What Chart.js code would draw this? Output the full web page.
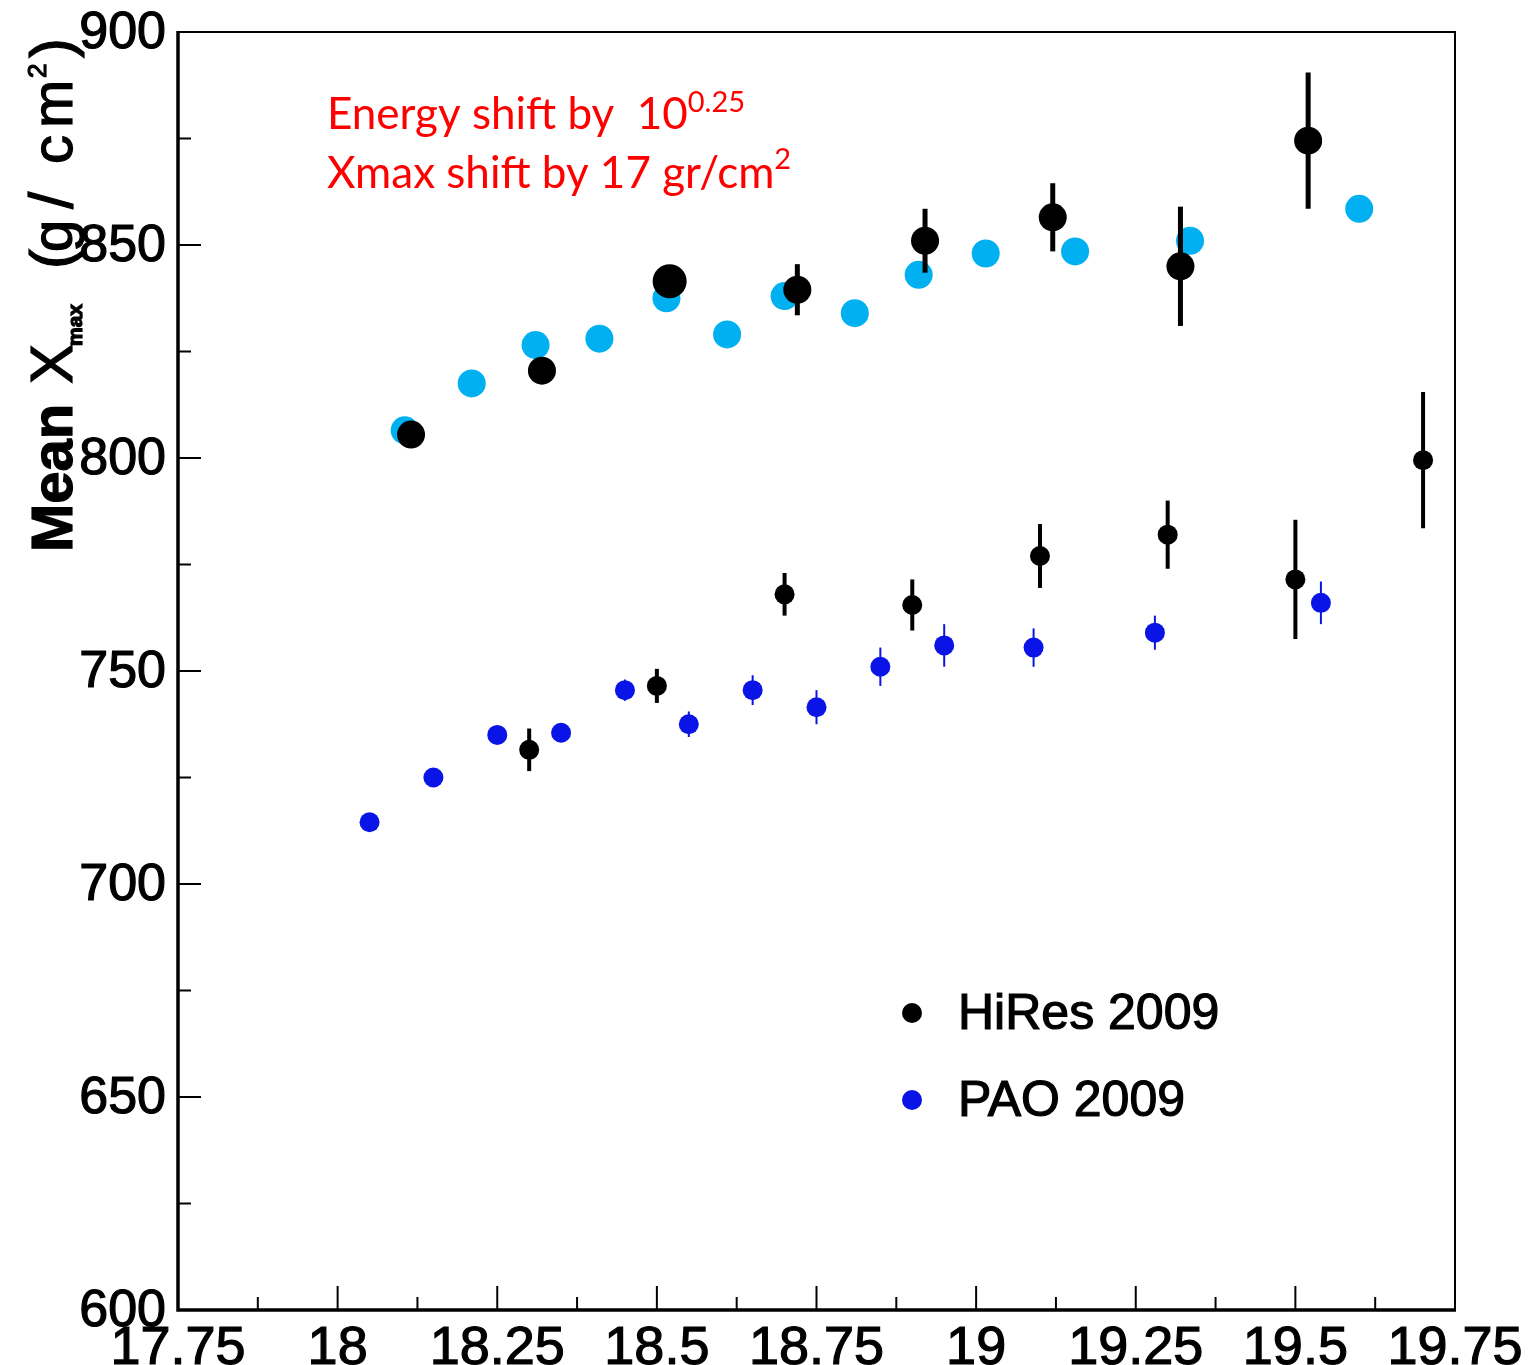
<!DOCTYPE html>
<html>
<head>
<meta charset="utf-8">
<script src="https://cdn.jsdelivr.net/npm/chart.js@4"></script>
<style>
  body { margin: 0; background: #fff; }
  #box { width: 1532px; height: 1365px; position: relative; }
</style>
</head>
<body>
<div id="box"><canvas id="grafica"></canvas></div>
<script>
// ejes
const xTicks = [17.75, 18, 18.25, 18.5, 18.75, 19, 19.25, 19.5, 19.75];
const xTickLabels = ['17.75', '18', '18.25', '18.5', '18.75', '19', '19.25', '19.5', '19.75'];
const yTicks = [600, 650, 700, 750, 800, 850, 900];

// HiRes 2009
const hiresX = [18.30, 18.50, 18.70, 18.90, 19.10, 19.30, 19.50, 19.70];
const hiresY = [731.5, 746.5, 768, 765.5, 777, 782, 771.5, 799.5];
const hiresErr = [5, 4, 5, 6, 7.5, 8, 14, 16];

// PAO 2009
const paoX = [18.05, 18.15, 18.25, 18.35, 18.45, 18.55, 18.65, 18.75, 18.85, 18.95, 19.09, 19.28, 19.54];
const paoY = [714.5, 725, 735, 735.5, 745.5, 737.5, 745.5, 741.5, 751, 756, 755.5, 759, 766];
const paoErr = [2, 2, 2, 2, 2.5, 3, 3.5, 4, 4.5, 5, 4.5, 4, 5];

// HiRes desplazado
const hiresShiftX = [18.115, 18.32, 18.52, 18.72, 18.92, 19.12, 19.32, 19.52];
const hiresShiftY = [805.5, 820.5, 841.5, 839.5, 851, 856.5, 845, 874.5];
const hiresShiftErr = [2, 2, 3, 6, 7.5, 8, 14, 16];

// PAO desplazado
const paoShiftX = [18.105, 18.21, 18.31, 18.41, 18.515, 18.61, 18.70, 18.81, 18.91, 19.015, 19.155, 19.335, 19.60];
const paoShiftY = [806.5, 817.5, 826.5, 828, 837.5, 829, 838, 834, 843, 848, 848.5, 851, 858.5];

function puntos(xs, ys) {
    return xs.map((x, i) => ({ x: x, y: ys[i] }));
}

const errores = [
    { ds: 0, err: hiresShiftErr, width: 5 },
    { ds: 2, err: hiresErr, width: 4 },
    { ds: 3, err: paoErr, width: 2 }
];

// piezas del titulo del eje y: texto, desplazamiento, fuente, subida
const tituloY = [
    ['Mean', 0, 'bold 58px', 0],
    ['X', 168, '60px', 0],
    ['max', 206, 'bold 21px', -10],
    ['(', 283, '60px', 0],
    ['g', 300, '58px', 0],
    ['/', 343, '62px', 0],
    ['c', 388, '58px', 0],
    ['m', 424, '58px', 0],
    ['2', 474, '26px', 26],
    [')', 494, '60px', 0]
];

function textoGrueso(ctx, s, x, y) {
    ctx.fillText(s, x, y);
    ctx.strokeText(s, x, y);
}

const marco = {
    id: 'marco',
    afterDatasetsDraw(chart) {
        const ctx = chart.ctx;
        const xs = chart.scales.x, ys = chart.scales.y;
        const a = chart.chartArea;

        // barras de error
        errores.forEach(e => {
            const ds = chart.data.datasets[e.ds];
            ctx.save();
            ctx.strokeStyle = ds.borderColor;
            ctx.lineWidth = e.width;
            ds.data.forEach((p, i) => {
                const px = xs.getPixelForValue(p.x);
                ctx.beginPath();
                ctx.moveTo(px, ys.getPixelForValue(p.y - e.err[i]));
                ctx.lineTo(px, ys.getPixelForValue(p.y + e.err[i]));
                ctx.stroke();
            });
            ctx.restore();
        });

        ctx.save();
        ctx.strokeStyle = '#000';
        // marco
        ctx.lineWidth = 2;
        ctx.beginPath();
        ctx.moveTo(a.left, a.top);
        ctx.lineTo(a.right, a.top);
        ctx.lineTo(a.right, a.bottom);
        ctx.stroke();
        ctx.lineWidth = 3.5;
        ctx.beginPath();
        ctx.moveTo(a.left, a.top - 1);
        ctx.lineTo(a.left, a.bottom);
        ctx.lineTo(a.right + 1, a.bottom);
        ctx.stroke();

        // marcas hacia dentro
        ctx.lineWidth = 2;
        yTicks.forEach((v, i) => {
            const py = ys.getPixelForValue(v);
            ctx.beginPath(); ctx.moveTo(a.left, py); ctx.lineTo(a.left + 23, py); ctx.stroke();
            if (i < yTicks.length - 1) {
                const pm = ys.getPixelForValue((v + yTicks[i + 1]) / 2);
                ctx.beginPath(); ctx.moveTo(a.left, pm); ctx.lineTo(a.left + 13, pm); ctx.stroke();
            }
        });
        xTicks.forEach((v, i) => {
            const px = xs.getPixelForValue(v);
            ctx.beginPath(); ctx.moveTo(px, a.bottom); ctx.lineTo(px, a.bottom - 24); ctx.stroke();
            if (i < xTicks.length - 1) {
                const pm = xs.getPixelForValue((v + xTicks[i + 1]) / 2);
                ctx.beginPath(); ctx.moveTo(pm, a.bottom); ctx.lineTo(pm, a.bottom - 13); ctx.stroke();
            }
        });

        // etiquetas
        ctx.fillStyle = '#000';
        ctx.lineWidth = 1.2;
        ctx.font = '52px "Liberation Sans", Arial, sans-serif';
        ctx.textAlign = 'right';
        ctx.textBaseline = 'middle';
        yTicks.forEach(v => {
            textoGrueso(ctx, String(v), a.left - 12, ys.getPixelForValue(v) + 2);
        });
        ctx.font = '54px "Liberation Sans", Arial, sans-serif';
        ctx.textAlign = 'center';
        ctx.textBaseline = 'top';
        xTicks.forEach((v, i) => {
            textoGrueso(ctx, xTickLabels[i], xs.getPixelForValue(v), a.bottom + 12);
        });

        // titulo eje y
        ctx.save();
        ctx.translate(72, 552);
        ctx.rotate(-Math.PI / 2);
        ctx.textAlign = 'left';
        ctx.textBaseline = 'alphabetic';
        tituloY.forEach(p => {
            ctx.font = p[2] + ' "Liberation Sans", Arial, sans-serif';
            textoGrueso(ctx, p[0], p[1], -p[3]);
        });
        ctx.restore();

        // texto rojo
        ctx.fillStyle = '#ff0000';
        ctx.textAlign = 'left';
        ctx.textBaseline = 'alphabetic';
        ctx.font = '44px Lato, "Open Sans", sans-serif';
        let t = 'Energy shift by  10';
        ctx.fillText(t, 327, 129);
        let w = ctx.measureText(t).width;
        ctx.font = '29px Lato, "Open Sans", sans-serif';
        ctx.fillText('0.25', 327 + w, 112);
        ctx.font = '44px Lato, "Open Sans", sans-serif';
        t = 'Xmax shift by 17 gr/cm';
        ctx.fillText(t, 327, 188);
        w = ctx.measureText(t).width;
        ctx.font = '29px Lato, "Open Sans", sans-serif';
        ctx.fillText('2', 327 + w, 169);

        // leyenda
        const leyenda = [chart.data.datasets[2], chart.data.datasets[3]];
        ctx.font = '50px "Liberation Sans", Arial, sans-serif';
        ctx.textBaseline = 'middle';
        ctx.lineWidth = 1.2;
        ctx.strokeStyle = '#000';
        leyenda.forEach((ds, i) => {
            const ly = 1013 + i * 87;
            ctx.fillStyle = ds.backgroundColor;
            ctx.beginPath(); ctx.arc(912, ly, 10, 0, Math.PI * 2); ctx.fill();
            ctx.fillStyle = '#000';
            textoGrueso(ctx, ds.label, 958, ly + 2);
        });
        ctx.restore();
    }
};

new Chart(document.getElementById('grafica'), {
    type: 'scatter',
    data: {
        datasets: [
            {
                label: 'HiRes 2009 (shifted)',
                data: puntos(hiresShiftX, hiresShiftY),
                backgroundColor: '#000000',
                borderColor: '#000000',
                pointRadius: [14, 14, 17, 14, 14, 14, 14, 14],
                pointBorderWidth: 0
            },
            {
                label: 'PAO 2009 (shifted)',
                data: puntos(paoShiftX, paoShiftY),
                backgroundColor: '#00b0f0',
                borderColor: '#00b0f0',
                pointRadius: 14,
                pointBorderWidth: 0
            },
            {
                label: 'HiRes 2009',
                data: puntos(hiresX, hiresY),
                backgroundColor: '#000000',
                borderColor: '#000000',
                pointRadius: 10,
                pointBorderWidth: 0
            },
            {
                label: 'PAO 2009',
                data: puntos(paoX, paoY),
                backgroundColor: '#0a14e6',
                borderColor: '#0a14e6',
                pointRadius: 10,
                pointBorderWidth: 0
            }
        ]
    },
    options: {
        responsive: true,
        maintainAspectRatio: false,
        animation: false,
        layout: { padding: { left: 178, right: 77, top: 32, bottom: 55 } },
        plugins: { legend: { display: false }, tooltip: { enabled: false } },
        scales: {
            x: { type: 'linear', min: 17.75, max: 19.75, display: false },
            y: { type: 'linear', min: 600, max: 900, display: false }
        }
    },
    plugins: [marco]
});
</script>
</body>
</html>
